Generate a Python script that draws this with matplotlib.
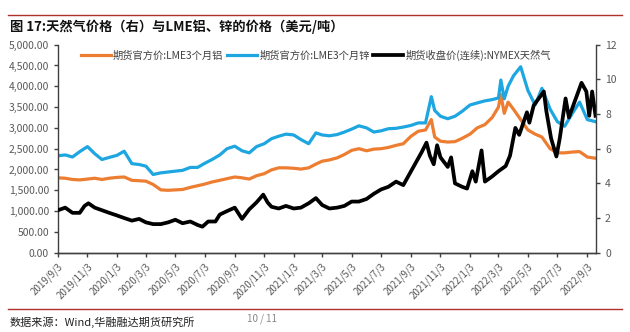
import matplotlib
matplotlib.use("Agg")
import matplotlib.pyplot as plt
import numpy as np
import pandas as pd

plt.rcParams['font.family'] = ['Noto Sans CJK SC', 'DejaVu Sans']

# LME 3-month aluminium and zinc, USD/t (left axis)
metal_dates = [
    "2019-09-03", "2019-09-18", "2019-10-03", "2019-10-18", "2019-11-03", "2019-11-18",
    "2019-12-03", "2019-12-18", "2020-01-03", "2020-01-18", "2020-02-03", "2020-02-18",
    "2020-03-03", "2020-03-18", "2020-04-03", "2020-04-18", "2020-05-03", "2020-05-18",
    "2020-06-03", "2020-06-18", "2020-07-03", "2020-07-18", "2020-08-03", "2020-08-18",
    "2020-09-03", "2020-09-18", "2020-10-03", "2020-10-18", "2020-11-03", "2020-11-18",
    "2020-12-03", "2020-12-18", "2021-01-03", "2021-01-18", "2021-02-03", "2021-02-18",
    "2021-03-03", "2021-03-18", "2021-04-03", "2021-04-18", "2021-05-03", "2021-05-18",
    "2021-06-03", "2021-06-18", "2021-07-03", "2021-07-18", "2021-08-03", "2021-08-18",
    "2021-09-03", "2021-09-18", "2021-10-03", "2021-10-15", "2021-10-22", "2021-11-03",
    "2021-11-18", "2021-12-03", "2021-12-18", "2022-01-03", "2022-01-18", "2022-02-03",
    "2022-02-18", "2022-03-03", "2022-03-08", "2022-03-15", "2022-03-23", "2022-04-03",
    "2022-04-18", "2022-05-03", "2022-05-18", "2022-06-01", "2022-06-18", "2022-07-03",
    "2022-07-18", "2022-08-03", "2022-08-18", "2022-09-03", "2022-09-20",
]
aluminium = [
    1800, 1790, 1760, 1750, 1770, 1790,
    1760, 1790, 1810, 1820, 1740, 1730,
    1720, 1640, 1510, 1500, 1510, 1520,
    1570, 1610, 1650, 1700, 1740, 1780,
    1820, 1800, 1770, 1850, 1900, 1990,
    2040, 2040, 2030, 2010, 2040, 2130,
    2200, 2230, 2280, 2360, 2460, 2500,
    2450, 2490, 2500, 2530, 2580, 2620,
    2800, 2920, 2950, 3200, 2780, 2680,
    2660, 2670, 2750, 2850, 3000, 3080,
    3250, 3500, 3800, 3350, 3620, 3450,
    3200, 2950, 2850, 2780, 2500, 2400,
    2400, 2420, 2430, 2300, 2270,
]
zinc = [
    2330, 2350, 2300, 2430, 2550, 2380,
    2240, 2290, 2340, 2440, 2140, 2120,
    2080, 1880, 1920, 1940, 1960, 1980,
    2050, 2050, 2150, 2240, 2350, 2500,
    2560, 2450, 2400, 2550, 2620, 2740,
    2800, 2850, 2830, 2720, 2620, 2880,
    2830, 2810, 2840, 2900, 2970, 3050,
    3000, 2900, 2930, 2980, 2990, 3020,
    3060, 3120, 3120, 3750, 3420, 3280,
    3220, 3280, 3400, 3550, 3600, 3650,
    3680, 3720, 4150, 3700, 4000, 4250,
    4470, 3900, 3550, 3950, 3450, 3150,
    3040, 3350, 3620, 3200, 3150,
]

# NYMEX natural gas continuous close, USD/MMBtu (right axis)
gas_dates = [
    "2019-09-03", "2019-09-18", "2019-10-03", "2019-10-18", "2019-10-28", "2019-11-05",
    "2019-11-18", "2019-12-03", "2019-12-18", "2020-01-03", "2020-01-18", "2020-02-03",
    "2020-02-18", "2020-03-03", "2020-03-18", "2020-04-03", "2020-04-18", "2020-05-03",
    "2020-05-18", "2020-06-03", "2020-06-18", "2020-06-28", "2020-07-10", "2020-07-25",
    "2020-08-03", "2020-08-18", "2020-09-03", "2020-09-18", "2020-10-03", "2020-10-18",
    "2020-11-01", "2020-11-10", "2020-11-18", "2020-12-03", "2020-12-18", "2021-01-03",
    "2021-01-18", "2021-02-03", "2021-02-18", "2021-03-03", "2021-03-18", "2021-04-03",
    "2021-04-18", "2021-05-03", "2021-05-18", "2021-06-03", "2021-06-18", "2021-07-03",
    "2021-07-18", "2021-08-03", "2021-08-18", "2021-09-03", "2021-09-15", "2021-09-25",
    "2021-10-05", "2021-10-12", "2021-10-20", "2021-10-27", "2021-11-03", "2021-11-18",
    "2021-11-25", "2021-12-03", "2021-12-18", "2021-12-28", "2022-01-08", "2022-01-15",
    "2022-01-27", "2022-02-03", "2022-02-18", "2022-03-03", "2022-03-18", "2022-03-27",
    "2022-04-07", "2022-04-15", "2022-05-01", "2022-05-06", "2022-05-15", "2022-06-05",
    "2022-06-10", "2022-06-20", "2022-07-01", "2022-07-08", "2022-07-20", "2022-07-27",
    "2022-08-05", "2022-08-22", "2022-09-01", "2022-09-07", "2022-09-13", "2022-09-20",
]
natgas = [
    2.45, 2.60, 2.30, 2.30, 2.70, 2.85,
    2.60, 2.45, 2.30, 2.15, 2.00, 1.85,
    1.95, 1.75, 1.65, 1.65, 1.75, 1.90,
    1.70, 1.80, 1.60, 1.50, 1.80, 1.80,
    2.20, 2.40, 2.60, 1.95, 2.50, 2.90,
    3.35, 2.90, 2.65, 2.55, 2.70, 2.55,
    2.60, 2.85, 3.15, 2.75, 2.55, 2.60,
    2.70, 2.95, 2.95, 3.10, 3.40, 3.65,
    3.80, 4.10, 3.90, 4.70, 5.30, 5.80,
    6.35, 5.60, 5.10, 6.20, 5.50, 4.95,
    5.50, 4.00, 3.80, 3.70, 4.70, 4.10,
    5.90, 4.10, 4.40, 4.70, 5.00, 5.60,
    7.20, 6.80, 8.10, 7.50, 8.50, 9.30,
    8.20, 6.60, 5.55, 6.60, 8.90, 7.80,
    8.50, 9.80, 9.30, 7.90, 9.30, 7.90,
]

tick_dates = [
    "2019-09-03", "2019-11-03", "2020-01-03", "2020-03-03", "2020-05-03", "2020-07-03",
    "2020-09-03", "2020-11-03", "2021-01-03", "2021-03-03", "2021-05-03", "2021-07-03",
    "2021-09-03", "2021-11-03", "2022-01-03", "2022-03-03", "2022-05-03", "2022-07-03",
    "2022-09-03",
]

series_names = ["期货官方价:LME3个月铝", "期货官方价:LME3个月锌", "期货收盘价(连续):NYMEX天然气"]
colors = ["#ED7D31", "#1DA6E0", "#000000"]

md = pd.to_datetime(metal_dates)
gd = pd.to_datetime(gas_dates)
td = pd.to_datetime(tick_dates)

W, H = 630, 332
fig = plt.figure(figsize=(W / 100, H / 100), dpi=100)
ax = fig.add_axes([58 / W, 1 - 252.7 / H, (596 - 58) / W, (252.7 - 44.7) / H])
ax2 = ax.twinx()

lw = 2.3
l1, = ax.plot(md, aluminium, color=colors[0], lw=lw, solid_joinstyle="round")
l2, = ax.plot(md, zinc, color=colors[1], lw=lw, solid_joinstyle="round")
l3, = ax2.plot(gd, natgas, color=colors[2], lw=lw + 0.4, solid_joinstyle="round")

ax.set_xlim(pd.Timestamp("2019-09-03"), pd.Timestamp("2022-09-21"))
ax.set_ylim(0, 5000)
ax2.set_ylim(0, 12)
ax.set_yticks(np.arange(0, 5001, 500))
ax2.set_yticks(np.arange(0, 13, 2))
ax.yaxis.set_major_formatter(matplotlib.ticker.FuncFormatter(lambda v, p: f"{v:,.2f}"))

ax.set_xticks(td)
ax.set_xticklabels([f"{d.year}/{d.month}/{d.day}" for d in td], rotation=45,
                   ha="right", rotation_mode="anchor")

spine_col = "#404040"
for a in (ax, ax2):
    a.spines["top"].set_visible(False)
    for s in ("left", "right", "bottom"):
        a.spines[s].set_color(spine_col)
        a.spines[s].set_linewidth(1.0)
    a.tick_params(colors="#595959", labelsize=7.5, length=3, width=1.0)
    a.tick_params(axis="both", which="both", color=spine_col)
ax.tick_params(axis="x", labelsize=7, pad=3)
ax2.spines["left"].set_visible(False)
ax.spines["right"].set_visible(False)

ax.legend([l1, l2, l3], series_names, loc="upper left", bbox_to_anchor=(0.025, 1.02),
          ncol=3, frameon=False, fontsize=7.4, handlelength=2.9, handletextpad=0.25,
          columnspacing=0.35, labelcolor="#404040")

# header and footer
red = "#B0302C"
fig.add_artist(plt.Line2D([8 / W, 622 / W], [1 - 15 / H, 1 - 15 / H], color=red, lw=1.0))
fig.add_artist(plt.Line2D([8 / W, 622 / W], [1 - 309 / H, 1 - 309 / H], color=red, lw=1.0))
fig.text(10 / W, 1 - 27 / H, "图 17:天然气价格（右）与LME铝、锌的价格（美元/吨）",
         fontsize=9.5, fontweight="bold", va="center", ha="left", color="#111111")
fig.text(10 / W, 1 - 322 / H, "数据来源：Wind,华融融达期货研究所", fontsize=8,
         va="center", ha="left", color="#222222")
fig.text(262 / W, 1 - 319 / H, "10 / 11", fontsize=7, va="center", ha="center",
         color="#888888")

fig.savefig("out.png", dpi=100)
